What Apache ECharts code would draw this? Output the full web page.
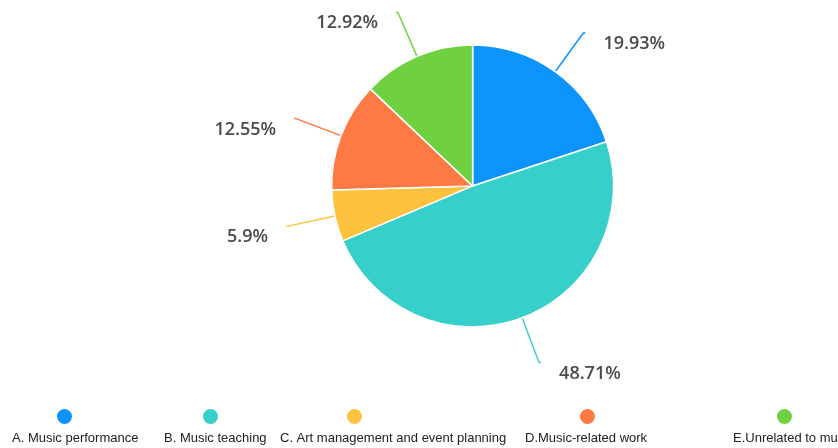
<!DOCTYPE html>
<html>
<head>
<meta charset="utf-8">
<script src="https://cdn.jsdelivr.net/npm/echarts@6/dist/echarts.min.js"></script>
<style>
  html, body { margin: 0; padding: 0; background: #fff; }
  #chart { width: 838px; height: 448px; }
</style>
</head>
<body>
<div id="chart"></div>
<script>
// Career destinations of music graduates (share of respondents, %)
const categories = [
  'A. Music performance',
  'B. Music teaching',
  'C. Art management and event planning',
  'D.Music-related work',
  'E.Unrelated to music'
];
const shares = [19.93, 48.71, 5.9, 12.55, 12.92];
const colors = ['#0c93fc', '#37cfc9', '#fdc33f', '#fd7a45', '#6fd13f'];

// Legend placement: icon row and text row, one entry per category
const iconLeft = [50, 196, 340, 573, 770];
const textLeft = [2, 154, 270, 515, 723];

const legends = [];
categories.forEach((name, i) => {
  legends.push({
    data: [{ name: name, icon: 'circle' }],
    left: iconLeft[i], top: 402,
    itemWidth: 17, itemHeight: 17,
    formatter: () => ''
  });
  legends.push({
    data: [{ name: name, icon: 'none' }],
    left: textLeft[i], top: 426,
    itemWidth: 0, itemHeight: 14,
    textStyle: { color: '#222', fontSize: 13, fontFamily: 'Liberation Sans, Arial, sans-serif' }
  });
});

const chart = echarts.init(document.getElementById('chart'), null, { renderer: 'canvas' });
chart.setOption({
  animation: false,
  color: colors,
  legend: legends,
  series: [{
    type: 'pie',
    center: ['56.4%', '41.5%'],
    radius: 141,
    startAngle: 90,
    clockwise: true,
    avoidLabelOverlap: false,
    itemStyle: { borderColor: '#fff', borderWidth: 1.5 },
    label: {
      show: true,
      // empty first line drops the value text a little below the line end
      formatter: '\n{c}%',
      lineHeight: 22,
      color: '#4a4a4a',
      fontSize: 18,
      fontWeight: 600,
      fontFamily: 'Open Sans, Noto Sans, sans-serif',
      distanceToLabelLine: 18
    },
    labelLine: { show: true, length: 48, length2: 2, smooth: 0.3, lineStyle: { width: 1.5 } },
    data: categories.map((name, i) => ({ name: name, value: shares[i] }))
  }]
});
</script>
</body>
</html>
